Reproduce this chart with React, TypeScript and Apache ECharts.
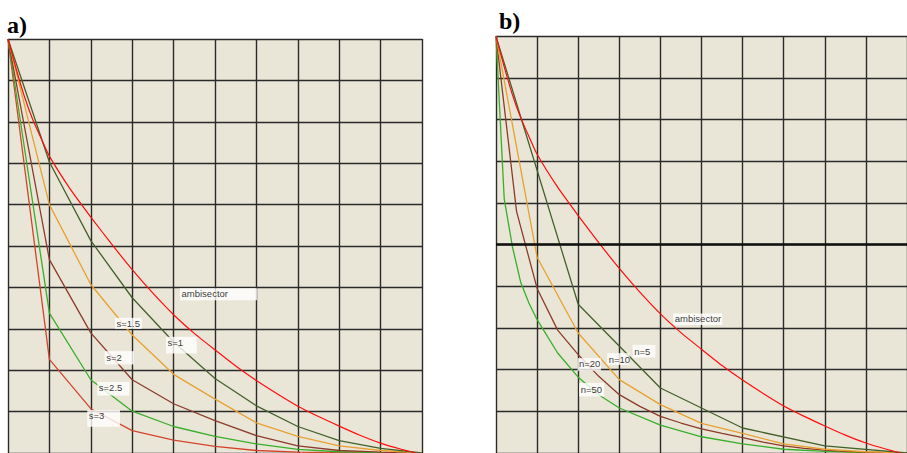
import React, { useEffect, useRef } from 'react';
import * as echarts from 'echarts';

// ---------- data (grid units: x 0..10, y 0..10) ----------
const xInt = [0, 1, 2, 3, 4, 5, 6, 7, 8, 9, 10];

const ambX = [0, 0.2, 0.4, 0.6, 0.8, 1, 1.5, 2, 2.5, 3, 3.5, 4, 4.5, 5, 5.5, 6, 6.5, 7, 7.5, 8, 8.5, 9, 9.5, 9.85];
const ambY = [10, 9.27, 8.6, 8.05, 7.6, 7.17, 6.38, 5.7, 5.05, 4.43, 3.86, 3.34, 2.89, 2.49, 2.1, 1.75, 1.43, 1.13, 0.88, 0.65, 0.43, 0.24, 0.09, 0];

const s1 = [10, 7.03, 5.13, 3.75, 2.68, 1.8, 1.14, 0.64, 0.3, 0.11, 0];
const s15 = [10, 6.0, 4.07, 2.85, 1.9, 1.3, 0.73, 0.4, 0.17, 0.06, 0];
const s2 = [10, 4.67, 2.9, 1.77, 1.19, 0.78, 0.42, 0.17, 0.06, 0.02, 0];
const s25 = [10, 3.38, 1.77, 1.01, 0.64, 0.4, 0.22, 0.09, 0.03, 0.01, 0];
const s3 = [10, 2.26, 1.07, 0.54, 0.31, 0.16, 0.06, 0.02, 0.01, 0, 0];

const n5X = [0, 2, 4, 6, 8, 10];
const n5 = [10, 3.57, 1.56, 0.6, 0.17, 0];
const n10 = [10, 4.7, 2.88, 1.76, 1.16, 0.71, 0.47, 0.22, 0.09, 0.03, 0];
const n20X = [0, 0.5, 1, 1.5, 2, 2.5, 3, 3.5, 4, 4.5, 5, 5.5, 6, 6.5, 7, 7.5, 8, 8.5, 9, 9.5, 10];
const n20 = [10, 5.8, 3.95, 2.95, 2.36, 1.84, 1.4, 1.12, 0.88, 0.72, 0.58, 0.47, 0.37, 0.26, 0.17, 0.11, 0.07, 0.04, 0.02, 0.01, 0];
const n50X = [0, 0.2, 0.4, 0.6, 0.8, 1, 1.5, 2, 2.5, 3, 4, 5, 6, 7, 8, 9, 10];
const n50 = [10, 6.1, 4.95, 4.1, 3.6, 3.2, 2.4, 1.82, 1.4, 1.08, 0.67, 0.39, 0.22, 0.09, 0.04, 0.01, 0];

const midLine = 5;

const labelsA = ['ambisector', 's=1.5', 's=1', 's=2', 's=2.5', 's=3'];
const labelsB = ['ambisector', 'n=5', 'n=10', 'n=20', 'n=50'];

// ---------- annotation anchors (data units) and box sizes ----------
const anchorA = [[4.155, 3.98], [2.585, 3.265], [3.816, 2.807], [2.336, 2.46], [2.157, 1.712], [1.915, 1.037]];
const boxA = [[77, 12, 0], [26.7, 11, 0], [30.7, 16.7, 0.7], [29.3, 13.3, 0.8], [32, 13.3, 0], [32.7, 16.7, 0.3]];
const anchorB = [[4.313, 3.351], [3.325, 2.594], [2.706, 2.396], [1.983, 2.277], [2.024, 1.68]];
const boxB = [[49, 11.7, 0], [22.7, 12.6, 1.5], [22.4, 11.7, 0.8], [23.4, 12.7, 0], [25, 13.3, 1]];

const C_AMB = '#FF0C0C';
const C1 = '#42612A';
const C2 = '#E9A030';
const C3 = '#8E3A28';
const C4 = '#38AE2A';
const C5 = '#D3442C';

const pair = (xs: number[], ys: number[]) => xs.map((x, i) => [x, ys[i]]);

function lineSeries(name: string, gi: number, data: number[][], color: string, extra: any = {}) {
  return {
    type: 'line',
    name,
    xAxisIndex: gi,
    yAxisIndex: gi,
    data,
    symbol: 'none',
    showSymbol: false,
    lineStyle: { color, width: 1.3 },
    z: 3,
    ...extra,
  };
}

function labelSeries(gi: number, texts: string[], anchors: number[][], boxes: number[][]) {
  return {
    type: 'scatter',
    xAxisIndex: gi,
    yAxisIndex: gi,
    symbolSize: 0,
    z: 10,
    silent: true,
    data: texts.map((t, i) => ({
      value: anchors[i],
      label: {
        show: true,
        formatter: t,
        position: [0, 0],
        align: 'left',
        verticalAlign: 'top',
        backgroundColor: '#FFFFFF',
        color: '#000000',
        fontFamily: '"Liberation Sans", Arial, sans-serif',
        fontSize: 9.5,
        lineHeight: 11,
        padding: [boxes[i][2], 0, 0, 1.5],
        width: boxes[i][0] - 1.5,
        height: boxes[i][1] - boxes[i][2],
      },
    })),
  };
}

export default function App() {
  const ref = useRef<HTMLDivElement>(null);
  useEffect(() => {
    if (!ref.current) return;
    const chart = echarts.init(ref.current, undefined, { renderer: 'svg' });
    const axisCommon = (gi: number) => ({
      type: 'value',
      gridIndex: gi,
      min: 0,
      max: 10,
      interval: 1,
      axisLabel: { show: false },
      axisTick: { show: false },
      axisLine: { show: false },
      splitLine: { show: true, showMinLine: true, showMaxLine: true, lineStyle: { color: '#2a2a2a', width: 1.4 } },
    });
    chart.setOption({
      animation: false,
      backgroundColor: '#FFFFFF',
      grid: [
        { left: 8, top: 39, width: 414, height: 414.7, show: true, backgroundColor: '#EAE6D7', borderWidth: 0 },
        { left: 496, top: 36.4, width: 415, height: 419, show: true, backgroundColor: '#EAE6D7', borderWidth: 0 },
      ],
      xAxis: [axisCommon(0), axisCommon(1)],
      yAxis: [axisCommon(0), axisCommon(1)],
      graphic: [
        { type: 'text', left: 7, top: 13, style: { text: 'a)', font: 'bold 24px "Liberation Serif", "Times New Roman", serif', fill: '#000' } },
        { type: 'text', left: 499, top: 9, style: { text: 'b)', font: 'bold 24px "Liberation Serif", "Times New Roman", serif', fill: '#000' } },
      ],
      series: [
        lineSeries('s=3', 0, pair(xInt, s3), C5),
        lineSeries('s=2.5', 0, pair(xInt, s25), C4),
        lineSeries('s=2', 0, pair(xInt, s2), C3),
        lineSeries('s=1.5', 0, pair(xInt, s15), C2),
        lineSeries('s=1', 0, pair(xInt, s1), C1),
        lineSeries('ambisector a', 0, pair(ambX, ambY), C_AMB, { smooth: 0.2, lineStyle: { color: C_AMB, width: 1.2 } }),
        lineSeries('n=50', 1, pair(n50X, n50), C4),
        lineSeries('n=20', 1, pair(n20X, n20), C3),
        lineSeries('n=10', 1, pair(xInt, n10), C2),
        lineSeries('n=5', 1, pair(n5X, n5), C1, {
          markLine: {
            silent: true,
            symbol: ['none', 'none'],
            label: { show: false },
            lineStyle: { color: '#111', width: 2.5, type: 'solid' },
            data: [{ yAxis: midLine }],
          },
        }),
        lineSeries('ambisector b', 1, pair(ambX, ambY), C_AMB, { smooth: 0.2, lineStyle: { color: C_AMB, width: 1.2 } }),
        labelSeries(0, labelsA, anchorA, boxA),
        labelSeries(1, labelsB, anchorB, boxB),
      ],
    });
    return () => chart.dispose();
  }, []);
  return <div ref={ref} style={{ position: 'absolute', left: 0, top: 0, width: 907, height: 453 }} />;
}
